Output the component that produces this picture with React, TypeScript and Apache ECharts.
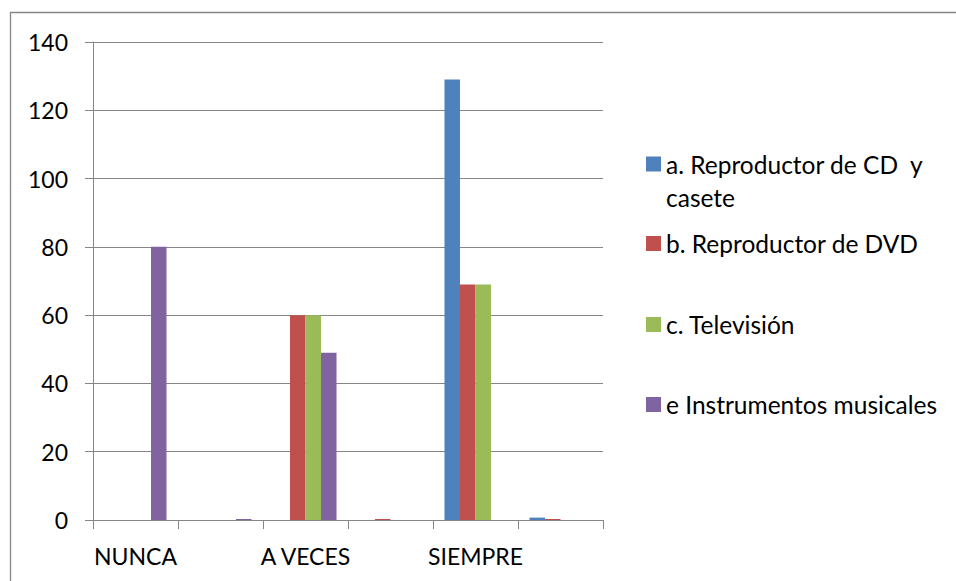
import React, { useEffect, useRef } from "react";
import * as echarts from "echarts";

const categories = ["NUNCA", "", "A VECES", "", "SIEMPRE", ""];
const seriesNames = [
  "a. Reproductor de CD  y casete",
  "b. Reproductor de DVD",
  "c. Televisión",
  "e Instrumentos musicales",
];
const cdCasete = [0, 0, 0, 0, 129, 0.7];
const dvd = [0, 0, 60, 0.3, 69, 0.3];
const television = [0, 0, 60, 0, 69, 0];
const instrumentos = [80, 0.3, 49, 0, 0, 0];
const yTicks = { min: 0, max: 140, interval: 20 };
const colors = ["#4F81BD", "#C0504D", "#9BBB59", "#8064A2"];

const FONT = "Lato";
const LEGEND_SIZE = 24.5;

export default function App() {
  const ref = useRef<HTMLDivElement>(null);
  useEffect(() => {
    if (!ref.current) return;
    const chart = echarts.init(ref.current, null, { renderer: "svg" });
    const values = [cdCasete, dvd, television, instrumentos];
    const legendCenters = [164, 243.5, 324.5, 404.5];
    const legendLabels = [
      "a. Reproductor de CD  y",
      "b. Reproductor de DVD",
      "c. Televisión",
      "e Instrumentos musicales",
    ];
    chart.setOption({
      animation: false,
      grid: { left: 93, right: 353, top: 42, bottom: 61, containLabel: false },
      xAxis: {
        type: "category",
        data: categories,
        axisLine: { lineStyle: { color: "#868686", width: 1 } },
        axisTick: { show: true, length: 9, lineStyle: { color: "#868686" }, alignWithLabel: false },
        axisLabel: { interval: 0, color: "#000", fontFamily: FONT, fontSize: 23, margin: 24 },
      },
      yAxis: {
        type: "value",
        min: yTicks.min,
        max: yTicks.max,
        interval: yTicks.interval,
        axisLine: { show: true, lineStyle: { color: "#868686", width: 1 } },
        axisTick: { show: true, length: 8, lineStyle: { color: "#868686" } },
        axisLabel: { color: "#000", fontFamily: FONT, fontSize: 23, margin: 25 },
        splitLine: { lineStyle: { color: "#868686", width: 1 } },
      },
      legend: legendLabels.map((lbl, i) => ({
        data: [seriesNames[i]],
        orient: "vertical",
        left: 646,
        top: legendCenters[i] - 13,
        padding: 0,
        icon: "rect",
        itemWidth: 15,
        itemHeight: 15,
        selectedMode: false,
        formatter: () => lbl,
        textStyle: { color: "#000", fontFamily: FONT, fontSize: LEGEND_SIZE, lineHeight: 26 },
      })),
      graphic: [
        {
          type: "rect",
          shape: { x: 10.5, y: 12.5, width: 2000, height: 2000 },
          style: { fill: "none", stroke: "#868686", lineWidth: 1.3 },
          silent: true,
        },
        {
          type: "text",
          x: 666,
          y: 197,
          style: {
            text: "casete",
            fill: "#000",
            font: `${LEGEND_SIZE}px ${FONT}`,
            textVerticalAlign: "middle",
          },
          silent: true,
        },
      ],
      series: seriesNames.map((name, i) => ({
        name,
        type: "bar",
        data: values[i],
        barGap: "0%",
        barCategoryGap: "27%",
        itemStyle: { color: colors[i] },
      })),
    });
    return () => chart.dispose();
  }, []);
  return (
    <div
      ref={ref}
      style={{ position: "fixed", left: 0, top: 0, width: 956, height: 581, background: "#fff" }}
    />
  );
}
